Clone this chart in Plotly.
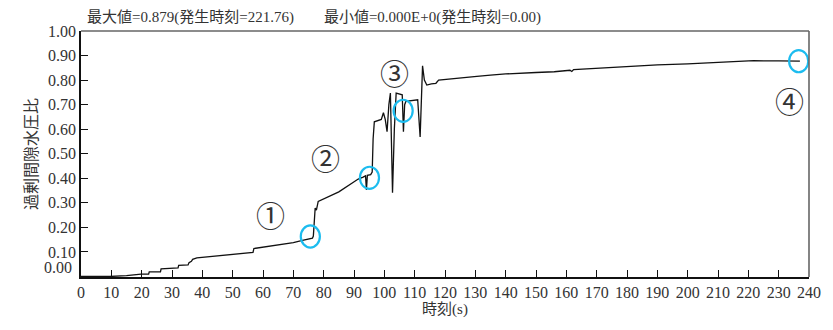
import plotly.graph_objects as go

# 時刻(s) と 過剰間隙水圧比 の時刻歴
time_s = [0, 9.5, 15, 19.8, 22.3, 22.5, 26.2, 26.4, 32.0, 32.2, 35.3, 35.6, 36.4, 36.8,
          38.2, 40, 45.3, 50, 56.7, 57.0, 60.5, 65, 70, 73, 76.3, 76.6, 76.9, 77.2,
          77.6, 78.2, 85, 91.4, 93.0, 93.8, 94.1, 94.4, 95.5, 96.0, 96.3, 96.7,
          99.0, 99.7, 100.3, 100.9, 101.5, 102.0, 102.7, 103.3, 103.9, 105.5,
          105.9, 106.3, 106.7, 107.1, 110.5, 111.0, 111.8, 112.2, 112.6, 113.2,
          114.0, 115.5, 117.0, 117.9, 120, 125, 130.5, 135, 140, 150, 156,
          161.2, 161.8, 162.4, 170, 180, 190, 200, 210, 214.6, 221.76, 230, 237]
ratio = [0.000, 0.000, 0.004, 0.010, 0.010, 0.019, 0.019, 0.031, 0.035, 0.045, 0.047, 0.056,
         0.062, 0.070, 0.076, 0.078, 0.084, 0.089, 0.098, 0.114, 0.120, 0.129, 0.138, 0.147,
         0.156, 0.165, 0.262, 0.279, 0.270, 0.306, 0.345, 0.397, 0.405, 0.410, 0.353,
         0.412, 0.415, 0.425, 0.560, 0.630, 0.640, 0.667, 0.640, 0.590, 0.700, 0.747,
         0.341, 0.600, 0.747, 0.740, 0.740, 0.590, 0.700, 0.713, 0.720, 0.720, 0.568,
         0.760, 0.858, 0.800, 0.780, 0.785, 0.787, 0.800, 0.803, 0.810, 0.815, 0.820,
         0.825, 0.831, 0.834, 0.840, 0.835, 0.843, 0.849, 0.856, 0.862, 0.866, 0.871,
         0.876, 0.879, 0.878, 0.877]

# 着目点 ①〜④
mark_t = [75.6, 95.1, 106.2, 236.6]
mark_v = [0.163, 0.402, 0.675, 0.877]
mark_labels = ["①", "②", "③", "④"]
label_t = [62.6, 80.7, 103.3, 233.6]
label_v = [0.242, 0.473, 0.822, 0.705]

x_ticks = list(range(0, 241, 10))
y_ticks = [round(0.1 * i, 2) for i in range(1, 11)]

title_text = "最大値=0.879(発生時刻=221.76)　　最小値=0.000E+0(発生時刻=0.00)"

num_font = "Liberation Serif"
mix_font = "Liberation Serif, Noto Sans CJK JP"
cjk_font = "Noto Sans CJK JP"
txt = "#333333"
cyan = "#1CBCEF"

fig = go.Figure()
fig.add_trace(go.Scatter(x=time_s, y=ratio, mode="lines",
                         line=dict(color="#111111", width=1.3),
                         hoverinfo="skip", showlegend=False))

# 着目点の円 (横 ±3.15s, 縦 ±0.045)
rx, ry = 3.15, 0.045
for t, v in zip(mark_t, mark_v):
    fig.add_shape(type="circle", xref="x", yref="y",
                  x0=t - rx, x1=t + rx, y0=v - ry, y1=v + ry,
                  line=dict(color=cyan, width=2.2))

for lab, t, v in zip(mark_labels, label_t, label_v):
    fig.add_annotation(x=t, y=v, text=lab, showarrow=False,
                       font=dict(family=mix_font, size=29, color=txt))

# 上辺・右辺の枠線
fig.add_shape(type="line", xref="paper", yref="paper", x0=0, x1=1, y0=1, y1=1,
              line=dict(color="#666666", width=1.6))
fig.add_shape(type="line", xref="paper", yref="paper", x0=1, x1=1, y0=0, y1=1,
              line=dict(color="#666666", width=1.6))

# 0.00 の目盛ラベル (少し上にずらして表示)
fig.add_annotation(x=0, xref="paper", y=0, yref="y", text="0.00", showarrow=False,
                   xanchor="right", xshift=-7, yshift=9,
                   font=dict(family=num_font, size=16, color=txt))

# 最大値・最小値の表示
fig.add_annotation(x=0.0055, xref="paper", y=1, yref="paper", text=title_text,
                   showarrow=False, xanchor="left", yanchor="bottom", yshift=3,
                   font=dict(family=mix_font, size=15, color=txt))

fig.update_xaxes(range=[0, 240], tickvals=x_ticks, ticktext=[str(v) for v in x_ticks],
                 ticks="inside", ticklen=7, tickwidth=1.2, tickcolor="#111111",
                 showline=True, linecolor="#111111", linewidth=1.6,
                 showgrid=False, zeroline=False,
                 tickfont=dict(family=num_font, size=16, color=txt),
                 title=dict(text="時刻(s)", standoff=3,
                            font=dict(family=mix_font, size=15, color=txt)))
fig.update_yaxes(range=[-0.002, 1.0], tickvals=y_ticks,
                 ticktext=[f"{v:.2f}" for v in y_ticks],
                 ticks="inside", ticklen=7, tickwidth=1.2, tickcolor="#111111",
                 showline=True, linecolor="#111111", linewidth=1.6,
                 showgrid=False, zeroline=False,
                 tickfont=dict(family=num_font, size=16, color=txt),
                 title=dict(text="過剰間隙水圧比", standoff=6,
                            font=dict(family=cjk_font, size=16, color=txt)))

fig.update_layout(width=833, height=330,
                  margin=dict(l=81, r=15, t=31, b=53),
                  paper_bgcolor="white", plot_bgcolor="white")

fig.write_html("out.html")
